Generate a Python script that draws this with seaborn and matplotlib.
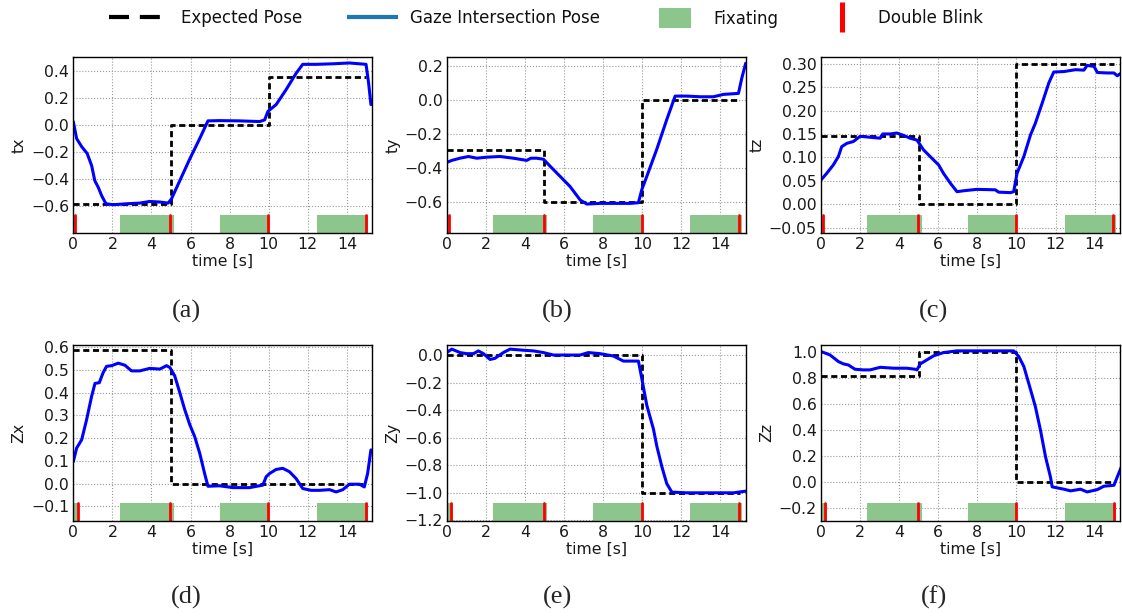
import matplotlib
matplotlib.use("Agg")
import matplotlib.pyplot as plt
import seaborn as sns
from matplotlib.lines import Line2D
from matplotlib.patches import Patch
from matplotlib.ticker import FuncFormatter, MultipleLocator

sns.set_style("white")
plt.rcParams["font.family"] = ["DejaVu Sans"]

# ---------------- data ----------------
step_t = [0, 5, 10, 15]

t_tx = [0, 0.17, 0.43, 0.71, 0.94, 1.1, 1.28, 1.45, 1.67, 2.04, 2.72, 3.4, 3.91, 4.43, 4.85, 5.02,
        5.45, 5.96, 6.47, 6.89, 7.49, 8.51, 9.53, 9.79, 9.96, 10.38, 10.89, 11.4, 11.74, 12.43,
        13.28, 14.13, 14.64, 14.98, 15.11, 15.23]
tx = [0.025, -0.10, -0.16, -0.21, -0.30, -0.41, -0.46, -0.52, -0.58, -0.587, -0.58, -0.575,
      -0.563, -0.567, -0.575, -0.545, -0.41, -0.25, -0.10, 0.03, 0.032, 0.03, 0.025, 0.037, 0.10,
      0.15, 0.26, 0.38, 0.446, 0.446, 0.45, 0.456, 0.45, 0.446, 0.31, 0.15]
exp_tx = [-0.585, 0.0, 0.355, 0.355]

t_ty = [0, 0.26, 0.68, 1.11, 1.54, 2.05, 2.73, 3.41, 4.1, 4.3, 4.6, 4.95, 5.29, 5.8, 6.31, 6.83,
        7.17, 7.85, 8.53, 9.39, 9.81, 9.98, 10.24, 10.75, 11.26, 11.69, 12.29, 12.97, 13.65,
        14.16, 14.93, 15.1, 15.3]
ty = [-0.368, -0.356, -0.343, -0.333, -0.343, -0.337, -0.333, -0.343, -0.356, -0.343, -0.343,
      -0.349, -0.39, -0.45, -0.51, -0.59, -0.614, -0.61, -0.61, -0.61, -0.606, -0.53, -0.45,
      -0.29, -0.115, 0.024, 0.024, 0.02, 0.02, 0.034, 0.04, 0.13, 0.218]
exp_ty = [-0.295, -0.6, 0.0, 0.0]

t_tz = [0, 0.29, 0.63, 0.89, 1.06, 1.32, 1.66, 2.0, 2.51, 3.03, 3.16, 3.54, 3.88, 4.22, 4.56,
        4.91, 5.25, 5.68, 6.02, 6.27, 6.62, 6.96, 7.3, 7.98, 8.92, 9.09, 9.69, 9.86, 10.03, 10.38,
        10.72, 10.97, 11.32, 11.66, 11.91, 12.43, 13.03, 13.45, 13.62, 13.97, 14.14, 14.65,
        14.99, 15.16, 15.37]
tz = [0.052, 0.066, 0.084, 0.102, 0.123, 0.130, 0.134, 0.145, 0.143, 0.141, 0.150, 0.150, 0.152,
      0.147, 0.141, 0.137, 0.116, 0.098, 0.084, 0.066, 0.045, 0.027, 0.029, 0.032, 0.031, 0.026,
      0.025, 0.027, 0.066, 0.102, 0.148, 0.173, 0.216, 0.259, 0.282, 0.283, 0.287, 0.286, 0.296,
      0.294, 0.281, 0.280, 0.280, 0.274, 0.28]
exp_tz = [0.145, 0.0, 0.30, 0.30]

t_zx = [0, 0.17, 0.43, 0.68, 0.94, 1.11, 1.33, 1.53, 1.7, 1.96, 2.3, 2.64, 2.98, 3.4, 3.91, 4.43,
        4.77, 4.94, 5.19, 5.45, 5.7, 5.96, 6.21, 6.47, 6.72, 6.89, 7.49, 8.17, 9.02, 9.7, 9.87,
        10.04, 10.38, 10.72, 11.06, 11.4, 11.74, 12.17, 12.6, 13.11, 13.45, 13.79, 14.13, 14.64,
        14.89, 15.06, 15.23]
zx = [0.096, 0.156, 0.193, 0.281, 0.385, 0.441, 0.444, 0.489, 0.516, 0.519, 0.530, 0.521, 0.496,
      0.496, 0.507, 0.504, 0.519, 0.511, 0.474, 0.40, 0.326, 0.259, 0.207, 0.133, 0.044, -0.012,
      -0.010, -0.018, -0.018, -0.007, 0.030, 0.044, 0.062, 0.067, 0.052, 0.022, -0.022, -0.030,
      -0.030, -0.027, -0.037, -0.027, -0.003, -0.003, -0.015, 0.044, 0.148]
exp_zx = [0.59, 0.0, 0.0, 0.0]

t_zy = [0, 0.26, 0.68, 1.02, 1.37, 1.62, 1.88, 2.22, 2.47, 2.9, 3.24, 3.92, 4.44, 4.95, 5.46,
        6.14, 6.83, 7.25, 7.85, 8.53, 9.04, 9.81, 9.98, 10.24, 10.58, 10.75, 11.01, 11.26, 11.52,
        12.29, 13.65, 14.68, 15.3]
zy = [0.02, 0.045, 0.02, 0.012, 0.012, 0.032, 0.012, -0.03, -0.022, 0.02, 0.045, 0.037, 0.032,
      0.02, 0.002, 0.002, 0.002, 0.02, 0.012, -0.005, -0.042, -0.042, -0.166, -0.364, -0.537,
      -0.66, -0.81, -0.933, -0.995, -1.0, -1.0, -1.0, -0.988]
exp_zy = [0.0, 0.0, -1.0, -1.0]

t_zz = [0, 0.46, 0.89, 1.15, 1.4, 1.74, 2.17, 2.51, 3.03, 3.71, 4.39, 4.82, 4.91, 5.08, 5.42,
        5.76, 6.27, 6.96, 8.32, 9.86, 10.12, 10.38, 10.63, 10.97, 11.23, 11.49, 11.74, 11.83,
        12.09, 12.43, 12.77, 13.28, 13.62, 14.14, 14.48, 14.99, 15.16, 15.37]
zz = [1.0, 0.974, 0.923, 0.905, 0.897, 0.864, 0.859, 0.859, 0.879, 0.872, 0.872, 0.864, 0.859,
      0.905, 0.936, 0.967, 0.992, 1.005, 1.005, 1.005, 0.962, 0.885, 0.756, 0.577, 0.397, 0.192,
      0.038, -0.038, -0.046, -0.056, -0.069, -0.056, -0.077, -0.059, -0.033, -0.026, 0.038, 0.115]
exp_zz = [0.815, 1.0, 0.0, 0.0]

fix_start_top = [2.37, 7.5, 12.47]
fix_end_top = [5.15, 10.0, 15.1]
blinks_top = [0.1, 4.97, 9.98, 14.96]
fix_start_bottom = [0.0, 2.37, 7.5, 12.47]
fix_end_bottom = [0.3, 5.15, 10.0, 15.1]
blinks_bottom = [0.22, 4.97, 9.97, 14.97]

ylabels = ["tx", "ty", "tz", "Zx", "Zy", "Zz"]
ylims = [(-0.795, 0.50), (-0.785, 0.255), (-0.061, 0.314), (-0.165, 0.61), (-1.205, 0.075), (-0.30, 1.05)]
ysteps = [0.2, 0.2, 0.05, 0.1, 0.2, 0.2]
ydecimals = [1, 1, 2, 1, 1, 1]
panel_tags = ["(a)", "(b)", "(c)", "(d)", "(e)", "(f)"]

# ---------------- styles ----------------
W, H = 1122, 616
GREEN = "#8cc68c"
BLUE = "#0000ff"
LEG_BLUE = "#1f77b4"
FS = 11.3

fig = plt.figure(figsize=(W / 100, H / 100), dpi=100)
fig.patch.set_facecolor("white")

col_left = [73.3, 446.7, 821.0]
row_top = [57.0, 345.0]
ax_w, ax_h = 299.0, 176.0
tag_x = [186, 557, 934]
tag_y = [311, 597]

series_t = [t_tx, t_ty, t_tz, t_zx, t_zy, t_zz]
series_v = [tx, ty, tz, zx, zy, zz]
expected = [exp_tx, exp_ty, exp_tz, exp_zx, exp_zy, exp_zz]

for i in range(6):
    r, c = divmod(i, 3)
    left = col_left[c] / W
    bottom = 1 - (row_top[r] + ax_h) / H
    ax = fig.add_axes([left, bottom, ax_w / W, ax_h / H])
    ax.set_facecolor("white")

    fs_list = fix_start_top if r == 0 else fix_start_bottom
    fe_list = fix_end_top if r == 0 else fix_end_bottom
    bl_list = blinks_top if r == 0 else blinks_bottom
    for s, e in zip(fs_list, fe_list):
        ax.axvspan(s, e, ymin=0, ymax=0.105, color=GREEN, lw=0, zorder=1)
    for b in bl_list:
        ax.axvline(b, ymin=0, ymax=0.105, color="red", lw=2, zorder=2)

    ax.plot(step_t, expected[i], drawstyle="steps-post", color="black", lw=2,
            dashes=(2.2, 1.3), zorder=3)
    sns.lineplot(x=series_t[i], y=series_v[i], ax=ax, color=BLUE, lw=2.2, sort=False,
                 estimator=None, zorder=4)

    ax.set_xlim(0, 15.3)
    ax.set_ylim(*ylims[i])
    ax.xaxis.set_major_locator(MultipleLocator(2))
    ax.yaxis.set_major_locator(MultipleLocator(ysteps[i]))
    d = ydecimals[i]
    ax.yaxis.set_major_formatter(FuncFormatter(
        lambda v, p, d=d: (f"{v:.{d}f}" if abs(v) > 1e-9 else f"{0:.{d}f}").replace("-", "\u2212")))
    ax.xaxis.set_major_formatter(FuncFormatter(lambda v, p: f"{v:.0f}"))
    ax.grid(True, color="#999999", linestyle=":", lw=0.8, zorder=0)
    ax.set_axisbelow(True)
    for sp in ax.spines.values():
        sp.set_color("black")
        sp.set_linewidth(1.0)
        sp.set_visible(True)
        sp.set_zorder(6)
    ax.tick_params(axis="both", length=0, pad=3, labelsize=FS, colors="#1a1a1a")
    ax.set_xlabel("time [s]", fontsize=FS, labelpad=1, color="#1a1a1a")
    ax.set_ylabel(ylabels[i], fontsize=FS, labelpad=3, color="#1a1a1a")

    fig.text(tag_x[c] / W, 1 - tag_y[r] / H, panel_tags[i], family="Liberation Serif",
             fontsize=19, ha="center", va="center")

# ---------------- legend (four entries along the top) ----------------
LFS = 12
lfs_px = LFS * 100 / 72
ly = 1 - 18 / H

entries = [
    (Line2D([], [], color="black", lw=3, dashes=(4.8, 2.6), dash_capstyle="butt"),
     "Expected Pose", 109, 52, 20, 0.7),
    (Line2D([], [], color=LEG_BLUE, lw=3, solid_capstyle="butt"),
     "Gaze Intersection Pose", 347, 51, 12, 0.7),
    (Patch(facecolor=GREEN, edgecolor="none"), "Fixating", 659, 32, 22, 23 / lfs_px),
    (Line2D([], [], color="red", marker="|", markersize=22, markeredgewidth=3.6, linestyle="None"),
     "Double Blink", 834, 16, 28, 0.7),
]
for h, lab, x0, hl, pad, hh in entries:
    leg = fig.legend([h], [lab], loc="center left", bbox_to_anchor=(x0 / W, ly),
                     frameon=False, fontsize=LFS, handlelength=hl / lfs_px,
                     handletextpad=pad / lfs_px, handleheight=hh, borderpad=0,
                     borderaxespad=0, numpoints=1)
    for t in leg.get_texts():
        t.set_color("#111111")

fig.savefig("out.png", dpi=100, facecolor="white")
